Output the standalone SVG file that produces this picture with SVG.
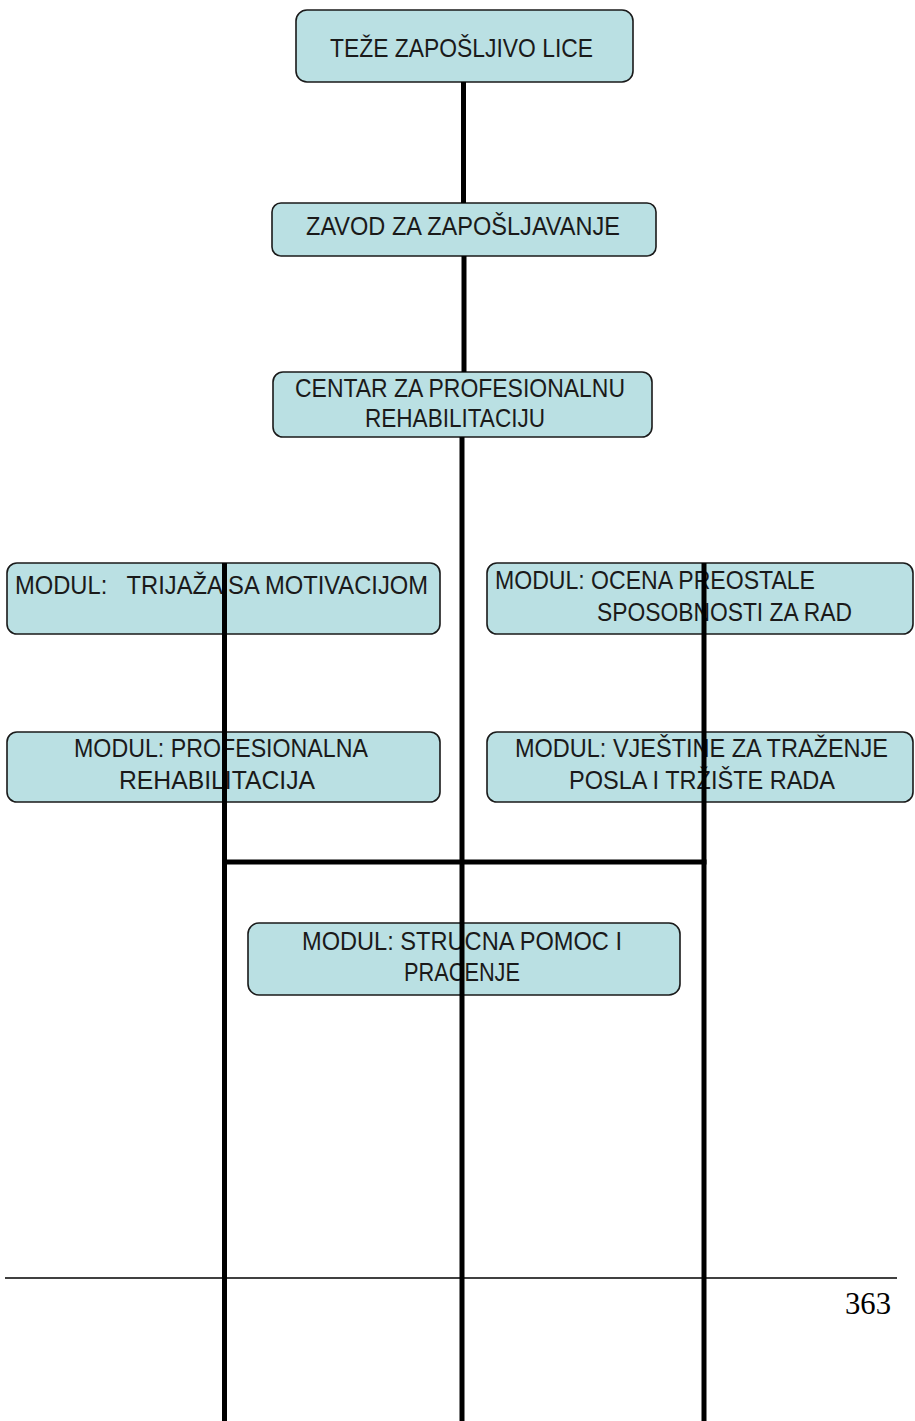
<svg xmlns="http://www.w3.org/2000/svg" width="915" height="1421" viewBox="0 0 915 1421">
  <style>
    .box { fill: #bae0e3; stroke: #1a1a1a; stroke-width: 1.6; }
    .lbl { font-family: "Liberation Sans", Arial, sans-serif; font-size: 25px; fill: #1a1a1a; white-space: pre; }
    .wire { stroke: #000; stroke-width: 5; fill: none; }
    .rule { stroke: #000; stroke-width: 1.6; }
    .page { font-family: "Liberation Serif", "Times New Roman", serif; font-size: 31px; fill: #000; }
  </style>
  <rect width="915" height="1421" fill="#fff"/>

  <g id="node-teze-zaposljivo-lice">
    <rect class="box" x="296" y="10" width="337" height="72" rx="11"/>
    <text class="lbl" x="330" y="57" textLength="263" lengthAdjust="spacingAndGlyphs">TEŽE ZAPOŠLJIVO LICE</text>
  </g>

  <g id="node-zavod">
    <rect class="box" x="272" y="203" width="384" height="53" rx="9"/>
    <text class="lbl" x="306" y="235" textLength="314" lengthAdjust="spacingAndGlyphs">ZAVOD ZA ZAPOŠLJAVANJE</text>
  </g>

  <g id="node-centar">
    <rect class="box" x="273" y="372" width="379" height="65" rx="10"/>
    <text class="lbl" x="295" y="397" textLength="330" lengthAdjust="spacingAndGlyphs">CENTAR ZA PROFESIONALNU</text>
    <text class="lbl" x="365" y="427" textLength="180" lengthAdjust="spacingAndGlyphs">REHABILITACIJU</text>
  </g>

  <g id="node-trijaza">
    <rect class="box" x="7" y="563" width="433" height="71" rx="10"/>
    <text class="lbl" x="15" y="594" textLength="413" lengthAdjust="spacingAndGlyphs">MODUL:   TRIJAŽA SA MOTIVACIJOM</text>
  </g>

  <g id="node-ocena">
    <rect class="box" x="487" y="563" width="426" height="71" rx="10"/>
    <text class="lbl" x="495" y="589" textLength="320" lengthAdjust="spacingAndGlyphs">MODUL: OCENA PREOSTALE</text>
    <text class="lbl" x="597" y="621" textLength="255" lengthAdjust="spacingAndGlyphs">SPOSOBNOSTI ZA RAD</text>
  </g>

  <g id="node-profesionalna">
    <rect class="box" x="7" y="732" width="433" height="70" rx="10"/>
    <text class="lbl" x="74" y="757" textLength="294" lengthAdjust="spacingAndGlyphs">MODUL: PROFESIONALNA</text>
    <text class="lbl" x="119" y="789" textLength="196" lengthAdjust="spacingAndGlyphs">REHABILITACIJA</text>
  </g>

  <g id="node-vjestine">
    <rect class="box" x="487" y="732" width="426" height="70" rx="10"/>
    <text class="lbl" x="515" y="757" textLength="373" lengthAdjust="spacingAndGlyphs">MODUL: VJEŠTINE ZA TRAŽENJE</text>
    <text class="lbl" x="569" y="789" textLength="266" lengthAdjust="spacingAndGlyphs">POSLA I TRŽIŠTE RADA</text>
  </g>

  <g id="node-strucna">
    <rect class="box" x="248" y="923" width="432" height="72" rx="11"/>
    <text class="lbl" x="302" y="950" textLength="320" lengthAdjust="spacingAndGlyphs">MODUL: STRUCNA POMOC I</text>
    <text class="lbl" x="404" y="981" textLength="116" lengthAdjust="spacingAndGlyphs">PRACENJE</text>
  </g>

  <!-- thick connector lines, drawn over the boxes -->
  <g id="connectors">
    <line class="wire" x1="463.5" y1="82" x2="463.5" y2="203"/>
    <line class="wire" x1="464" y1="256" x2="464" y2="372"/>
    <line class="wire" x1="462" y1="437" x2="462" y2="1425"/>
    <line class="wire" x1="224.5" y1="563" x2="224.5" y2="1425"/>
    <line class="wire" x1="704" y1="563" x2="704" y2="1425"/>
    <line class="wire" x1="222" y1="862" x2="706.5" y2="862"/>
  </g>

  <!-- page footer -->
  <g id="footer">
    <line class="rule" x1="5" y1="1278" x2="897" y2="1278"/>
    <text class="page" x="845" y="1314" textLength="46" lengthAdjust="spacingAndGlyphs">363</text>
  </g>
</svg>
